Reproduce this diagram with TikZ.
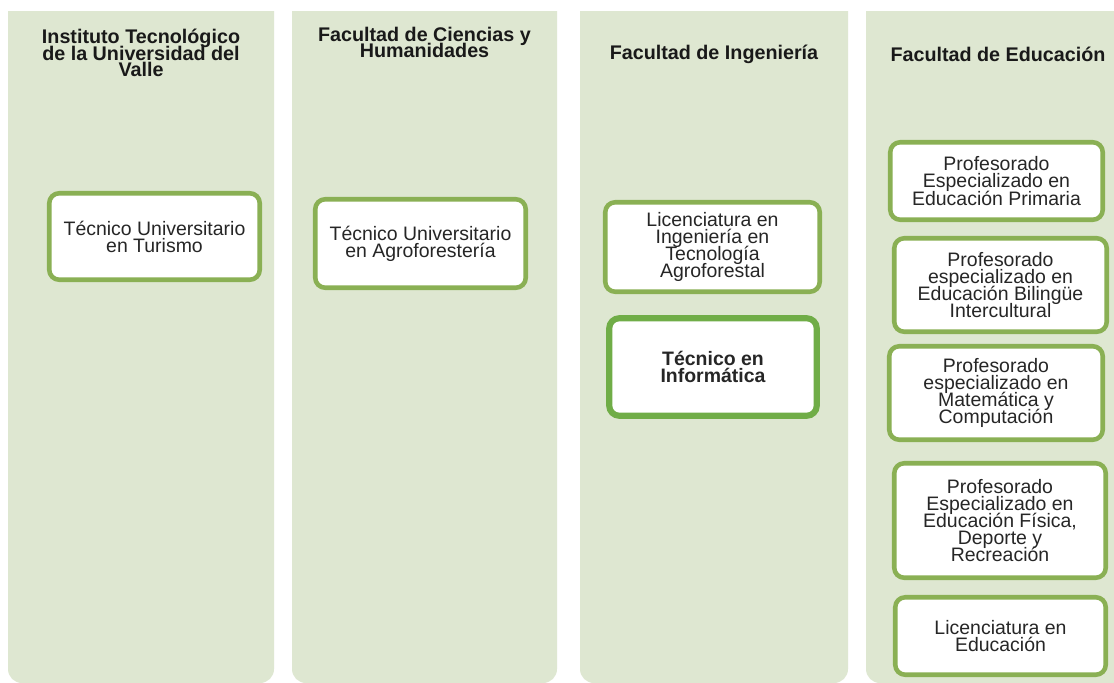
\documentclass[tikz,border=0pt]{standalone}
\usepackage{fontspec}
\setmainfont{Liberation Sans}
\definecolor{colbg}{RGB}{222,231,209}
\definecolor{olivebox}{RGB}{138,176,84}
\definecolor{brightbox}{RGB}{112,173,71}
\newcommand{\progfont}{\fontsize{14.6}{12.8}\selectfont\lineskiplimit=-100pt}
\newcommand{\headfont}{\bfseries\fontsize{14.8}{12.4}\selectfont\lineskiplimit=-100pt}
\newcommand{\progbox}[7][]{%
  \node[prog, #1, minimum width={(#4-#2-4.5)*0.75pt}, minimum height={(#5-#3-4.5)*0.75pt}]
    (#6) at ({(#2+#4)/2},{(#3+#5)/2}) {#7};}
\begin{document}
\begin{tikzpicture}[x=0.75pt,y=-0.75pt,
  panel/.style={fill=colbg},
  head/.style={align=center, font=\headfont, inner sep=0pt, text=black!90},
  prog/.style={draw=olivebox, line width=3.4pt, fill=white, rounded corners=7.5pt,
    align=center, font=\progfont, inner sep=0pt, text=black!85}]
\useasboundingbox (0,0) rectangle (1114,682);
\fill[white] (0,0) rectangle (1114,682);
% panels
\foreach \l/\r in {8/274, 292/557, 580/848, 866/1132}{
  \fill[panel] (\l,11) [rounded corners=10.5pt] -- (\l,683) -- (\r,683) [sharp corners] -- (\r,11) -- cycle;
}
% headers
\node[head] (h1) at (141,53) {Instituto Tecnológico\\de la Universidad del\\Valle};
\node[head] (h2) at (424.5,42.5) {Facultad de Ciencias y\\Humanidades};
\node[head] (h3) at (714,54.5) {Facultad de Ingeniería};
\node[head] (h4) at (998,54.5) {Facultad de Educación};
% programmes
\progbox{47}{191}{262}{282}{b1}{Técnico Universitario\\en Turismo}
\progbox{313}{197}{528}{290}{b2}{Técnico Universitario\\en Agroforestería}
\progbox{603}{200}{822}{294}{b3}{Licenciatura en\\Ingeniería en\\Tecnología\\Agroforestal}
\progbox[draw=brightbox, line width=4.6pt, font=\progfont\bfseries, minimum width={(819-607-6)*0.75pt}, minimum height={(418-316-6)*0.75pt}]{607}{316}{819}{418}{b4}{Técnico en\\Informática}
\progbox{888}{140}{1105}{222}{e1}{Profesorado\\Especializado en\\Educación Primaria}
\progbox{892}{236}{1109}{334}{e2}{Profesorado\\especializado en\\Educación Bilingüe\\Intercultural}
\progbox{887}{344}{1105}{442}{e3}{Profesorado\\especializado en\\Matemática y\\Computación}
\progbox{892}{461}{1108}{580}{e4}{Profesorado\\Especializado en\\Educación Física,\\Deporte y\\Recreación}
\progbox{893}{595}{1108}{677}{e5}{Licenciatura en\\Educación}
\end{tikzpicture}
\end{document}
